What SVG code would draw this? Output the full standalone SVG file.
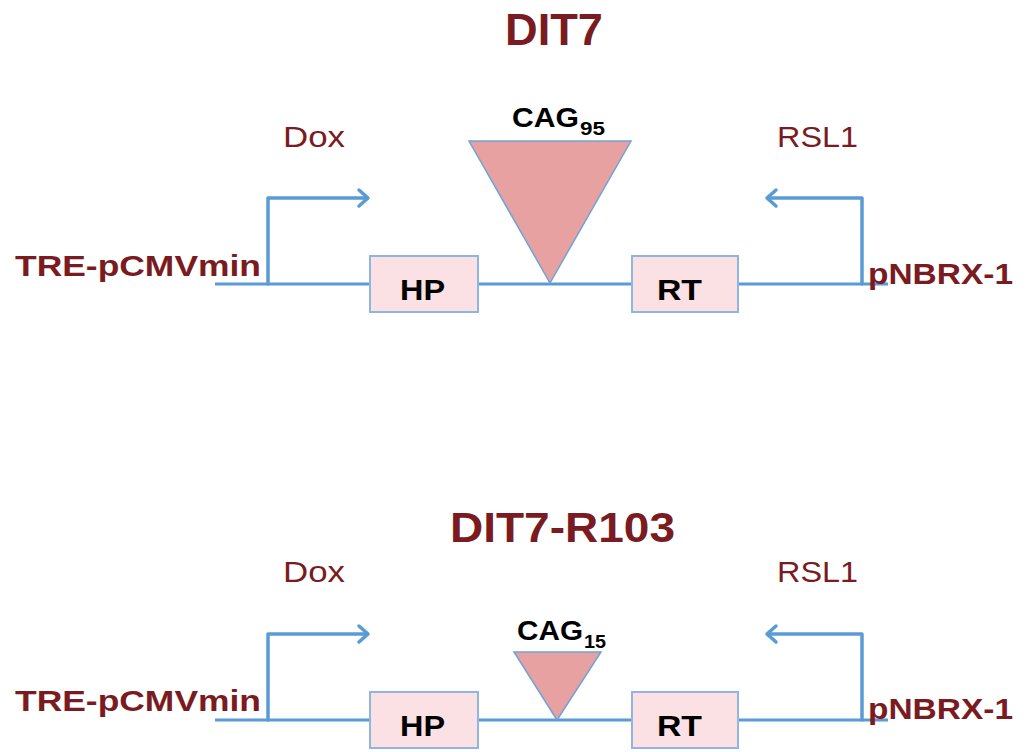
<svg xmlns="http://www.w3.org/2000/svg" width="1031" height="752" viewBox="0 0 1031 752">
<defs>
<style>
.title{font-family:"Liberation Sans",Arial,sans-serif;font-weight:bold;fill:#7a1b22}
.lbl{font-family:"Liberation Sans",Arial,sans-serif;font-size:30px;fill:#7a1b22}
.prom{font-family:"Liberation Sans",Arial,sans-serif;font-weight:bold;font-size:29px;fill:#7a1b22}
.gene{font-family:"Liberation Sans",Arial,sans-serif;font-weight:bold;font-size:29px;fill:#000}
.cag{font-family:"Liberation Sans",Arial,sans-serif;font-weight:bold;font-size:27px;fill:#000}
.sub{font-size:19px}
.dna{fill:none;stroke:#5b9bd5;stroke-width:3}
.arr{fill:none;stroke:#5b9bd5;stroke-width:3.5;stroke-linejoin:round;stroke-linecap:round}
.box{fill:#fbe1e3;stroke:#8fb6e0;stroke-width:2}
.tri{fill:#e8a1a1;stroke:#6fa3d6;stroke-width:1.5}
</style>
</defs>
<rect width="1031" height="752" fill="#fff"/>

<!-- Top construct -->
<g id="title-top"><text class="title" x="505" y="45" font-size="44" textLength="98" lengthAdjust="spacingAndGlyphs">DIT7</text></g>

<g id="connectors-top">
<line class="dna" x1="215" y1="284" x2="888" y2="284"/>
<path class="arr" d="M268,284 V198 H367"/>
<path class="arr" d="M359,190 L368,198 L359,206"/>
<path class="arr" d="M862,284 V198 H768"/>
<path class="arr" d="M776,190 L767,198 L776,206"/>
</g>

<g id="label-dox-top"><text class="lbl" x="283" y="147" textLength="62" lengthAdjust="spacingAndGlyphs">Dox</text></g>
<g id="label-rsl1-top"><text class="lbl" x="777" y="147" textLength="81" lengthAdjust="spacingAndGlyphs">RSL1</text></g>
<g id="promoter-tre-top"><text class="prom" x="15" y="276" textLength="246" lengthAdjust="spacingAndGlyphs">TRE-pCMVmin</text></g>
<g id="promoter-pnbrx-top"><text class="prom" x="868" y="284" textLength="145" lengthAdjust="spacingAndGlyphs">pNBRX-1</text></g>

<g id="cag-top">
<polygon class="tri" points="469,141 631,141 550,283"/>
<text class="cag" x="512" y="127" textLength="67" lengthAdjust="spacingAndGlyphs">CAG</text>
<text class="cag sub" x="580" y="135" textLength="25" lengthAdjust="spacingAndGlyphs">95</text>
</g>

<g id="hp-top">
<rect class="box" x="370" y="256" width="108" height="56"/>
<text class="gene" x="400" y="300" textLength="45" lengthAdjust="spacingAndGlyphs">HP</text>
</g>
<g id="rt-top">
<rect class="box" x="632" y="256" width="106" height="56"/>
<text class="gene" x="657" y="300" textLength="45" lengthAdjust="spacingAndGlyphs">RT</text>
</g>

<!-- Bottom construct -->
<g id="title-bottom"><text class="title" x="450" y="542" font-size="42" textLength="225" lengthAdjust="spacingAndGlyphs">DIT7-R103</text></g>

<g id="connectors-bottom">
<line class="dna" x1="215" y1="720" x2="888" y2="720"/>
<path class="arr" d="M268,720 V634 H367"/>
<path class="arr" d="M359,626 L368,634 L359,642"/>
<path class="arr" d="M862,720 V634 H768"/>
<path class="arr" d="M776,626 L767,634 L776,642"/>
</g>

<g id="label-dox-bottom"><text class="lbl" x="283" y="582" textLength="62" lengthAdjust="spacingAndGlyphs">Dox</text></g>
<g id="label-rsl1-bottom"><text class="lbl" x="777" y="582" textLength="81" lengthAdjust="spacingAndGlyphs">RSL1</text></g>
<g id="promoter-tre-bottom"><text class="prom" x="15" y="711" textLength="246" lengthAdjust="spacingAndGlyphs">TRE-pCMVmin</text></g>
<g id="promoter-pnbrx-bottom"><text class="prom" x="868" y="719" textLength="145" lengthAdjust="spacingAndGlyphs">pNBRX-1</text></g>

<g id="cag-bottom">
<polygon class="tri" points="514,652 601,652 557,720"/>
<text class="cag" x="517" y="640" textLength="66" lengthAdjust="spacingAndGlyphs">CAG</text>
<text class="cag sub" x="584" y="648" textLength="22" lengthAdjust="spacingAndGlyphs">15</text>
</g>

<g id="hp-bottom">
<rect class="box" x="370" y="692" width="108" height="56"/>
<text class="gene" x="400" y="736" textLength="45" lengthAdjust="spacingAndGlyphs">HP</text>
</g>
<g id="rt-bottom">
<rect class="box" x="632" y="692" width="106" height="56"/>
<text class="gene" x="657" y="736" textLength="45" lengthAdjust="spacingAndGlyphs">RT</text>
</g>
</svg>
